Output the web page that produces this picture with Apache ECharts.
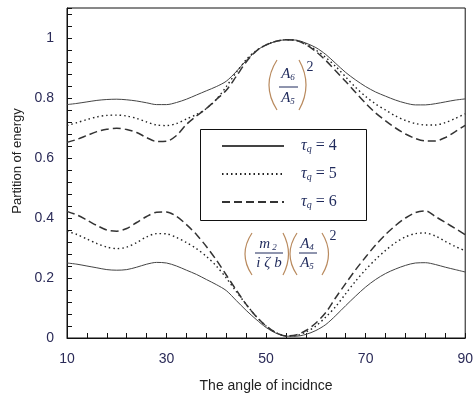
<!DOCTYPE html>
<html>
<head>
<meta charset="utf-8">
<script src="https://cdn.jsdelivr.net/npm/echarts@6/dist/echarts.min.js"></script>
<style>
  html, body { margin: 0; padding: 0; background: #fff; }
  #main { width: 476px; height: 398px; }
</style>
</head>
<body>
<div id="main"></div>
<script>
// angle of incidence, every 2 degrees
var angles = [10, 12, 14, 16, 18, 20, 22, 24, 26, 28, 30, 32, 34, 36, 38, 40, 42, 44, 46, 48,
    50, 52, 54, 56, 58, 60, 62, 64, 66, 68, 70, 72, 74, 76, 78, 80, 82, 84, 86, 88, 90];

var tauList = [4, 5, 6];

// (A6/A5)^2 -- upper group
var upper4 = [0.778, 0.782, 0.787, 0.792, 0.795, 0.796, 0.794, 0.790, 0.784, 0.778, 0.778, 0.785, 0.796, 0.810,
    0.824, 0.838, 0.856, 0.888, 0.925, 0.957, 0.977, 0.989, 0.994, 0.993, 0.983, 0.968, 0.945, 0.915, 0.885,
    0.860, 0.838, 0.820, 0.806, 0.793, 0.783, 0.777, 0.777, 0.781, 0.787, 0.793, 0.797];
var upper5 = [0.708, 0.718, 0.728, 0.737, 0.742, 0.743, 0.740, 0.732, 0.720, 0.710, 0.708, 0.715, 0.730, 0.745,
    0.765, 0.795, 0.838, 0.885, 0.928, 0.958, 0.977, 0.989, 0.994, 0.992, 0.980, 0.960, 0.935, 0.905, 0.870,
    0.835, 0.805, 0.780, 0.760, 0.740, 0.725, 0.715, 0.710, 0.710, 0.718, 0.732, 0.747];
var upper6 = [0.652, 0.662, 0.675, 0.688, 0.696, 0.699, 0.695, 0.685, 0.668, 0.655, 0.656, 0.675, 0.712, 0.740,
    0.765, 0.795, 0.826, 0.872, 0.920, 0.956, 0.977, 0.989, 0.994, 0.992, 0.978, 0.955, 0.925, 0.890, 0.855,
    0.818, 0.782, 0.750, 0.724, 0.700, 0.680, 0.665, 0.657, 0.657, 0.668, 0.688, 0.709];

// (m2/i zeta b)(A4/A5)^2 -- lower group
var lower4 = [0.250, 0.246, 0.240, 0.234, 0.228, 0.226, 0.228, 0.236, 0.246, 0.252, 0.250, 0.240, 0.226, 0.212,
    0.195, 0.178, 0.158, 0.125, 0.092, 0.062, 0.035, 0.016, 0.006, 0.006, 0.012, 0.025, 0.045, 0.075, 0.108,
    0.140, 0.170, 0.195, 0.215, 0.230, 0.242, 0.250, 0.251, 0.245, 0.236, 0.228, 0.220];
var lower5 = [0.356, 0.345, 0.330, 0.315, 0.303, 0.298, 0.303, 0.318, 0.337, 0.348, 0.347, 0.335, 0.318, 0.298,
    0.272, 0.240, 0.200, 0.155, 0.112, 0.072, 0.040, 0.018, 0.007, 0.008, 0.020, 0.040, 0.070, 0.105, 0.148,
    0.190, 0.228, 0.262, 0.292, 0.318, 0.337, 0.348, 0.350, 0.340, 0.322, 0.305, 0.291];
var lower6 = [0.422, 0.410, 0.393, 0.375, 0.360, 0.356, 0.365, 0.385, 0.405, 0.419, 0.420, 0.405, 0.378, 0.345,
    0.305, 0.260, 0.210, 0.160, 0.112, 0.072, 0.040, 0.018, 0.007, 0.010, 0.025, 0.050, 0.085, 0.135, 0.182,
    0.228, 0.270, 0.310, 0.345, 0.375, 0.400, 0.418, 0.424, 0.405, 0.385, 0.365, 0.344];

var styles = [
    { color: '#444', width: 1, type: 'solid' },
    { color: '#222', width: 1.4, type: [1.5, 3] },
    { color: '#333', width: 1.5, type: [8, 4] }
];

function pairs(vals) {
    return angles.map(function (a, i) { return [a, vals[i]]; });
}

var series = [];
[upper4, upper5, upper6, lower4, lower5, lower6].forEach(function (vals, i) {
    var k = i % 3;
    series.push({
        name: 'τq = ' + tauList[k],
        type: 'line',
        data: pairs(vals),
        smooth: 0.3,
        symbol: 'none',
        lineStyle: styles[k],
        itemStyle: { color: styles[k].color }
    });
});

var navy = '#1f2a5c';
var tan = '#b98a5e';
var serif = '"Liberation Serif", "DejaVu Serif", serif';

function txt(text, x, y, rich) {
    return {
        type: 'text', z: 50,
        style: {
            text: text, x: x, y: y, align: 'center', verticalAlign: 'middle',
            fill: navy, fontFamily: serif, fontSize: 14, rich: rich
        }
    };
}
function bar(x1, x2, y) {
    return { type: 'line', z: 50, shape: { x1: x1, y1: y, x2: x2, y2: y }, style: { stroke: navy, lineWidth: 1 } };
}
function paren(x, top, bottom, cx) {
    return {
        type: 'bezierCurve', z: 50,
        shape: { x1: x, y1: top, x2: x, y2: bottom, cpx1: cx, cpy1: (top + bottom) / 2 },
        style: { stroke: tan, lineWidth: 1.2, fill: null }
    };
}
var mathRich = {
    i: { fontFamily: serif, fontStyle: 'italic', fontSize: 15, fill: navy, lineHeight: 16 },
    s: { fontFamily: serif, fontStyle: 'italic', fontSize: 9, fill: navy, lineHeight: 16, verticalAlign: 'bottom' },
    g: { fontFamily: serif, fontStyle: 'italic', fontSize: 15, fill: navy, lineHeight: 16, padding: [0, 2, 0, 2] }
};

var chart = echarts.init(document.getElementById('main'));

chart.setOption({
    animation: false,
    backgroundColor: '#fff',
    grid: {
        left: 67, right: 8, top: 8, bottom: 60,
        show: true, borderColor: '#111', borderWidth: 1
    },
    legend: {
        orient: 'vertical',
        left: 221, top: 138,
        padding: 0,
        itemWidth: 62, itemHeight: 14, itemGap: 12,
        itemStyle: { opacity: 0 },
        data: series.slice(0, 3).map(function (s) { return s.name; }),
        formatter: function (name) {
            return '{t|τ}{q|q}{e| = ' + name.split('= ')[1] + '}';
        },
        textStyle: {
            rich: {
                t: { fontFamily: serif, fontStyle: 'italic', fontSize: 16, color: navy, padding: [0, 0, 0, 12], lineHeight: 16 },
                q: { fontFamily: serif, fontStyle: 'italic', fontSize: 10, color: navy, verticalAlign: 'bottom', lineHeight: 16 },
                e: { fontFamily: serif, fontSize: 16, color: navy, lineHeight: 16 }
            }
        }
    },
    xAxis: {
        type: 'value',
        min: 10, max: 90, interval: 20,
        name: 'The angle of incidnce',
        nameLocation: 'middle', nameGap: 41,
        nameTextStyle: { fontFamily: '"Liberation Sans", Arial, sans-serif', fontSize: 14, color: '#222' },
        axisLine: { lineStyle: { color: '#111', width: 1 } },
        axisTick: { inside: true, length: 5, lineStyle: { color: '#111' } },
        minorTick: { show: true, splitNumber: 5, length: 5, lineStyle: { color: '#111' } },
        axisLabel: { fontFamily: '"Liberation Sans", Arial, sans-serif', fontSize: 14, color: '#2b2b58', margin: 14 },
        splitLine: { show: false }
    },
    yAxis: {
        type: 'value',
        min: 0, max: 1.1, interval: 0.2,
        name: 'Partition of energy',
        nameLocation: 'middle', nameGap: 43,
        nameTextStyle: {
            fontFamily: '"Liberation Sans", Arial, sans-serif', fontSize: 13, color: '#222',
            padding: [0, 0, 0, 24]
        },
        axisLine: { lineStyle: { color: '#111', width: 1 } },
        axisTick: { inside: true, length: 5, lineStyle: { color: '#111' } },
        minorTick: { show: true, splitNumber: 5, length: 5, lineStyle: { color: '#111' } },
        axisLabel: {
            fontFamily: '"Liberation Sans", Arial, sans-serif', fontSize: 14, color: '#2b2b58', margin: 13,
            formatter: function (v) {
                return Math.abs(v * 5 - Math.round(v * 5)) < 1e-6 ? String(+v.toFixed(1)) : '';
            }
        },
        splitLine: { show: false }
    },
    series: series,
    graphic: [
        // legend frame
        { type: 'rect', z: 40, shape: { x: 200.5, y: 129.5, width: 166, height: 91 },
          style: { fill: null, stroke: '#111', lineWidth: 1 } },
        // (A6/A5)^2
        paren(277, 60, 110, 261),
        txt('{i|A}{s|6}', 288, 74, mathRich),
        bar(279, 298, 87),
        txt('{i|A}{s|5}', 288, 98, mathRich),
        paren(299, 60, 110, 313),
        txt('2', 310, 67, null),
        // (m2/i zeta b)(A4/A5)^2
        paren(252, 233, 275, 238),
        txt('{i|m}{s| 2}', 268, 244, mathRich),
        bar(255, 283, 253),
        txt('{g|i}{g|ζ}{g|b}', 269, 263, mathRich),
        paren(283, 233, 275, 294),
        paren(297, 233, 275, 283),
        txt('{i|A}{s|4}', 307, 244, mathRich),
        bar(299, 317, 253),
        txt('{i|A}{s|5}', 307, 263, mathRich),
        paren(322, 233, 275, 335),
        txt('2', 333, 236, null)
    ]
});
</script>
</body>
</html>
